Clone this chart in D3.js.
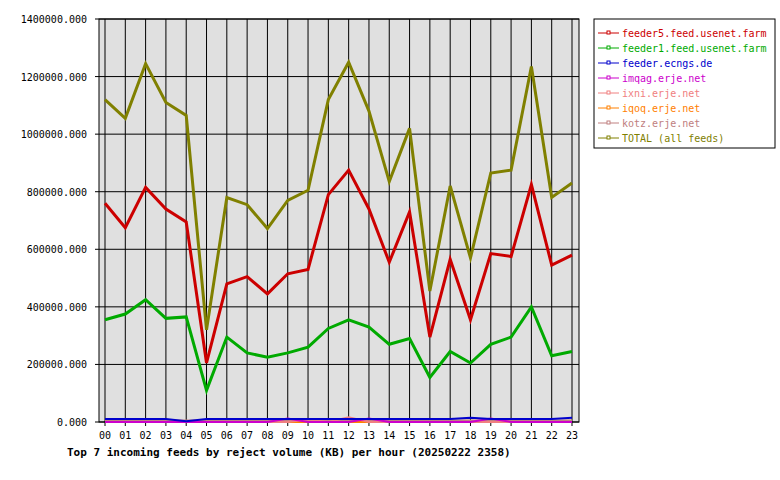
<!DOCTYPE html>
<html><head><meta charset="utf-8">
<script src="https://cdn.jsdelivr.net/npm/d3@7"></script>
<style>body{margin:0;background:#fff}text{font-family:"DejaVu Sans Mono",monospace;font-size:10px}</style>
</head><body><div id="chart"></div>
<script>
var hours = d3.range(24).map(function(h){ return (h<10?"0":"")+h })
var yTicks = [0,200000,400000,600000,800000,1000000,1200000,1400000]

var feeder5 = [760000,675000,815000,740000,695000,205000,480000,505000,445000,515000,530000,790000,875000,740000,555000,730000,295000,565000,355000,585000,575000,825000,545000,580000]
var feeder1 = [355000,375000,425000,360000,365000,110000,295000,240000,225000,240000,260000,325000,355000,330000,270000,290000,155000,245000,205000,270000,295000,400000,230000,245000]
var ecngs   = [10000,10000,10000,10000,3000,10000,10000,10000,10000,10000,10000,10000,10000,10000,10000,10000,10000,10000,15000,10000,10000,10000,10000,15000]
var imqag   = [0,0,0,0,0,0,0,0,0,12000,0,0,0,12000,0,0,0,0,0,12000,0,0,0,0]
var ixni    = [0,0,0,0,0,0,0,0,0,0,9000,0,16000,0,0,0,0,0,0,0,0,0,0,0]
var iqoq    = [0,0,0,0,0,0,0,0,0,0,0,0,0,0,0,0,0,0,0,0,0,0,0,0]
var kotz    = [5000,5000,5000,5000,5000,5000,5000,5000,5000,5000,5000,5000,5000,5000,5000,5000,5000,5000,5000,5000,5000,5000,5000,5000]
var total   = [1120000,1055000,1245000,1110000,1065000,320000,780000,755000,672000,770000,805000,1120000,1250000,1080000,835000,1020000,455000,820000,570000,865000,875000,1235000,780000,830000]

var series = [
  {name:"feeder5.feed.usenet.farm", color:"#cc0000", values:feeder5, w:3},
  {name:"feeder1.feed.usenet.farm", color:"#00aa00", values:feeder1, w:3},
  {name:"feeder.ecngs.de", color:"#0000cc", values:ecngs, w:2},
  {name:"imqag.erje.net", color:"#cc00cc", values:imqag, w:2},
  {name:"ixni.erje.net", color:"#f08080", values:ixni, w:2},
  {name:"iqoq.erje.net", color:"#ff8000", values:iqoq, w:2},
  {name:"kotz.erje.net", color:"#c08080", values:kotz, w:2},
  {name:"TOTAL (all feeds)", color:"#808000", values:total, w:3}
]

var W = 780, H = 480
var pL = 99, pR = 579, pT = 19, pB = 422
var svg = d3.select("#chart").append("svg").attr("width", W).attr("height", H)

var x = d3.scalePoint().domain(hours).range([pL+6, pR-7])
var y = d3.scaleLinear().domain([0,1400000]).range([pB, pT])

svg.append("rect").attr("x", pL).attr("y", pT).attr("width", pR-pL).attr("height", pB-pT)
   .attr("fill", "#e0e0e0")

// grid
svg.selectAll(".vg").data(hours).enter().append("line")
   .attr("x1", function(d){ return x(d) }).attr("x2", function(d){ return x(d) })
   .attr("y1", pT).attr("y2", pB+4).attr("stroke", "#000")
svg.selectAll(".hg").data(yTicks).enter().append("line")
   .attr("x1", pL-4).attr("x2", pR).attr("y1", function(d){ return y(d) }).attr("y2", function(d){ return y(d) })
   .attr("stroke", "#000")
svg.append("rect").attr("x", pL).attr("y", pT).attr("width", pR-pL).attr("height", pB-pT)
   .attr("fill", "none").attr("stroke", "#000")

svg.selectAll(".yl").data(yTicks).enter().append("text")
   .attr("x", pL-12).attr("y", function(d){ return y(d)+4 }).attr("text-anchor", "end")
   .text(function(d){ return d.toFixed(3) })
svg.selectAll(".xl").data(hours).enter().append("text")
   .attr("x", function(d){ return x(d) }).attr("y", pB+17).attr("text-anchor", "middle")
   .text(function(d){ return d })

var line = d3.line().x(function(d,i){ return x(hours[i]) }).y(function(d){ return y(d) })
series.slice().reverse().forEach(function(s){
  svg.append("path").attr("d", line(s.values)).attr("fill", "none")
     .attr("stroke", s.color).attr("stroke-width", s.w).attr("stroke-linejoin", "miter")
})

svg.append("text").attr("x", 67).attr("y", 456).attr("font-weight", "bold").style("font-size", "11px")
   .text("Top 7 incoming feeds by reject volume (KB) per hour (20250222 2358)")

// legend
var lg = svg.append("g")
lg.append("rect").attr("x", 594).attr("y", 19).attr("width", 181).attr("height", 129)
  .attr("fill", "#fff").attr("stroke", "#000")
series.forEach(function(s, i){
  var yy = 33 + i*15
  lg.append("line").attr("x1", 598).attr("x2", 619).attr("y1", yy).attr("y2", yy).attr("stroke", s.color)
  lg.append("rect").attr("x", 607).attr("y", yy-2).attr("width", 3).attr("height", 3)
    .attr("fill", "#fff").attr("stroke", s.color).attr("stroke-width", 1)
  lg.append("text").attr("x", 622).attr("y", yy+4).attr("fill", s.color).text(s.name)
})
</script></body></html>
